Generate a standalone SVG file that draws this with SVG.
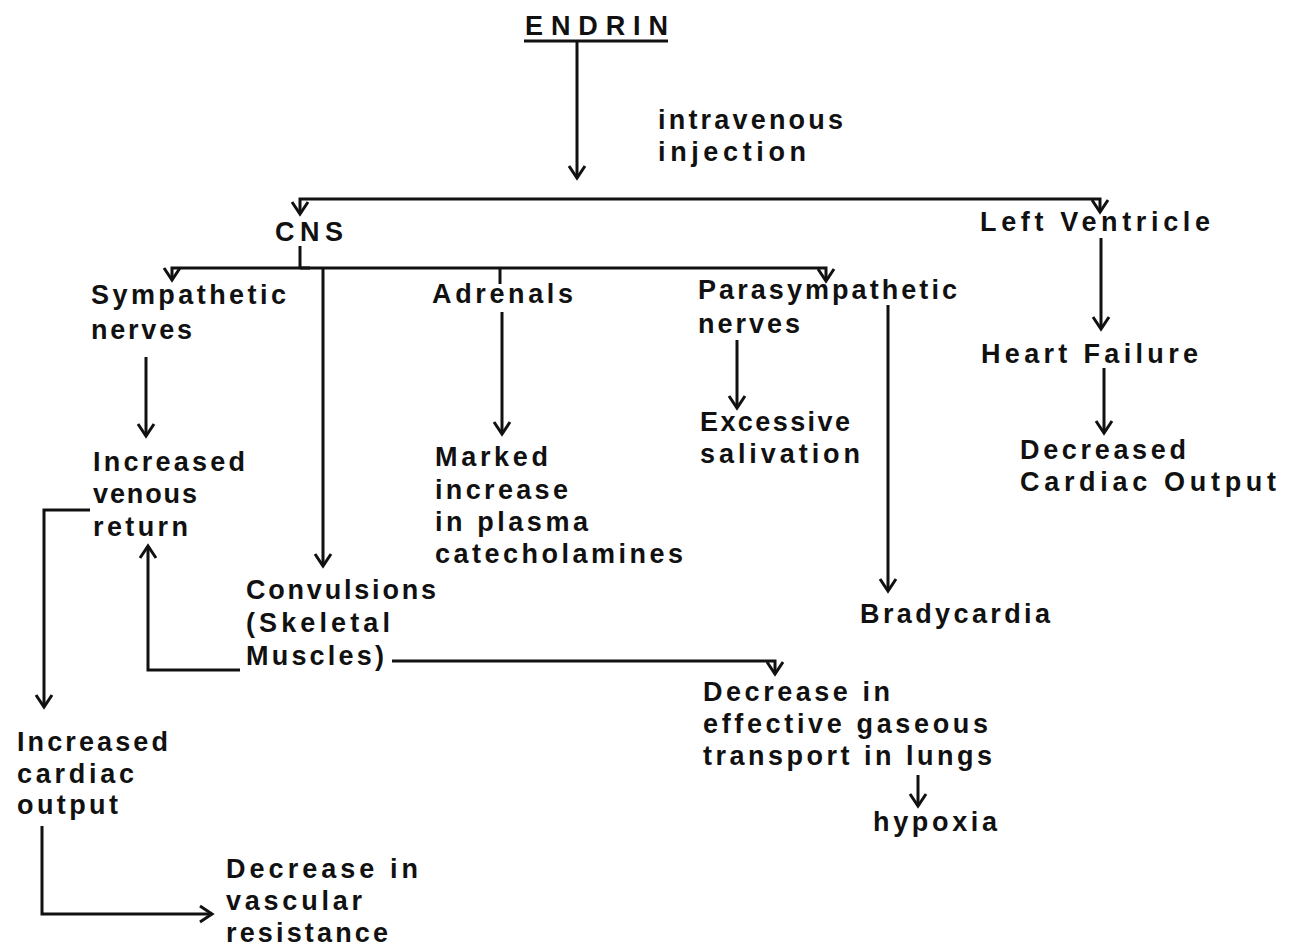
<svg xmlns="http://www.w3.org/2000/svg" width="1292" height="949" viewBox="0 0 1292 949">
<style>
text{font-family:"Liberation Sans","DejaVu Sans",Arial,sans-serif;font-weight:bold;font-size:27px;fill:#111}
.ln{fill:none;stroke:#111;stroke-width:3;stroke-linejoin:miter}
.ar{marker-end:url(#ah)}
</style>
<defs>
<marker id="ah" markerUnits="userSpaceOnUse" viewBox="-14 -10 16 20" refX="0" refY="0" markerWidth="16" markerHeight="20" orient="auto" overflow="visible">
<path d="M-12,-8 L0,0 L-12,8" fill="none" stroke="#111" stroke-width="3"/>
</marker>
</defs>
<rect width="1292" height="949" fill="#fff"/>
<g id="connectors">
<path class="ln ar" d="M577,41 V178"/>
<path class="ln ar" d="M700,199 H300 V214"/>
<path class="ln ar" d="M700,199 H1100 V212"/>
<path class="ln" d="M300,246 V268"/>
<path class="ln ar" d="M310,268 H172 V280"/>
<path class="ln ar" d="M300,268 H826 V281"/>
<path class="ln ar" d="M323,268 V566"/>
<path class="ln" d="M500,268 V284"/>
<path class="ln ar" d="M146,357 V436"/>
<path class="ln ar" d="M502,312 V434"/>
<path class="ln ar" d="M737,340 V408"/>
<path class="ln ar" d="M888,305 V591"/>
<path class="ln ar" d="M1101,238 V329"/>
<path class="ln ar" d="M1104,368 V433"/>
<path class="ln ar" d="M90,510 H44 V707"/>
<path class="ln ar" d="M240,670 H148 V546"/>
<path class="ln ar" d="M392,661 H775 V674"/>
<path class="ln ar" d="M42,826 V914 H212"/>
<path class="ln ar" d="M918,775 V806"/>
</g>
<g id="endrin">
<text x="525" y="35" textLength="143" lengthAdjust="spacing">ENDRIN</text>
<path class="ln" d="M524,41 H668"/>
</g>
<g id="route-label">
<text x="658" y="129" textLength="185" lengthAdjust="spacing">intravenous</text>
<text x="658" y="161" textLength="148" lengthAdjust="spacing">injection</text>
</g>
<g id="cns"><text x="275" y="241" textLength="68" lengthAdjust="spacing">CNS</text></g>
<g id="left-ventricle"><text x="980" y="231" textLength="230" lengthAdjust="spacing">Left Ventricle</text></g>
<g id="sympathetic">
<text x="91" y="304" textLength="195" lengthAdjust="spacing">Sympathetic</text>
<text x="91" y="339" textLength="101" lengthAdjust="spacing">nerves</text>
</g>
<g id="adrenals"><text x="432" y="303" textLength="141" lengthAdjust="spacing">Adrenals</text></g>
<g id="parasympathetic">
<text x="698" y="299" textLength="259" lengthAdjust="spacing">Parasympathetic</text>
<text x="698" y="333" textLength="102" lengthAdjust="spacing">nerves</text>
</g>
<g id="heart-failure"><text x="981" y="363" textLength="217" lengthAdjust="spacing">Heart Failure</text></g>
<g id="decreased-cardiac-output">
<text x="1020" y="459" textLength="166" lengthAdjust="spacing">Decreased</text>
<text x="1020" y="491" textLength="256" lengthAdjust="spacing">Cardiac Output</text>
</g>
<g id="increased-venous-return">
<text x="93" y="471" textLength="152" lengthAdjust="spacing">Increased</text>
<text x="93" y="503" textLength="104" lengthAdjust="spacing">venous</text>
<text x="93" y="536" textLength="95" lengthAdjust="spacing">return</text>
</g>
<g id="marked-increase">
<text x="435" y="466" textLength="113" lengthAdjust="spacing">Marked</text>
<text x="435" y="499" textLength="133" lengthAdjust="spacing">increase</text>
<text x="435" y="531" textLength="153" lengthAdjust="spacing">in plasma</text>
<text x="435" y="563" textLength="248" lengthAdjust="spacing">catecholamines</text>
</g>
<g id="excessive-salivation">
<text x="700" y="431" textLength="150" lengthAdjust="spacing">Excessive</text>
<text x="700" y="463" textLength="160" lengthAdjust="spacing">salivation</text>
</g>
<g id="bradycardia"><text x="860" y="623" textLength="190" lengthAdjust="spacing">Bradycardia</text></g>
<g id="convulsions">
<text x="246" y="599" textLength="190" lengthAdjust="spacing">Convulsions</text>
<text x="246" y="632" textLength="144" lengthAdjust="spacing">(Skeletal</text>
<text x="246" y="665" textLength="138" lengthAdjust="spacing">Muscles)</text>
</g>
<g id="decrease-gaseous-transport">
<text x="703" y="701" textLength="187" lengthAdjust="spacing">Decrease in</text>
<text x="703" y="733" textLength="285" lengthAdjust="spacing">effective gaseous</text>
<text x="703" y="765" textLength="289" lengthAdjust="spacing">transport in lungs</text>
</g>
<g id="hypoxia"><text x="873" y="831" textLength="124" lengthAdjust="spacing">hypoxia</text></g>
<g id="increased-cardiac-output">
<text x="17" y="751" textLength="151" lengthAdjust="spacing">Increased</text>
<text x="17" y="783" textLength="117" lengthAdjust="spacing">cardiac</text>
<text x="17" y="814" textLength="101" lengthAdjust="spacing">output</text>
</g>
<g id="decrease-vascular-resistance">
<text x="226" y="878" textLength="192" lengthAdjust="spacing">Decrease in</text>
<text x="226" y="910" textLength="136" lengthAdjust="spacing">vascular</text>
<text x="226" y="942" textLength="162" lengthAdjust="spacing">resistance</text>
</g>
</svg>
